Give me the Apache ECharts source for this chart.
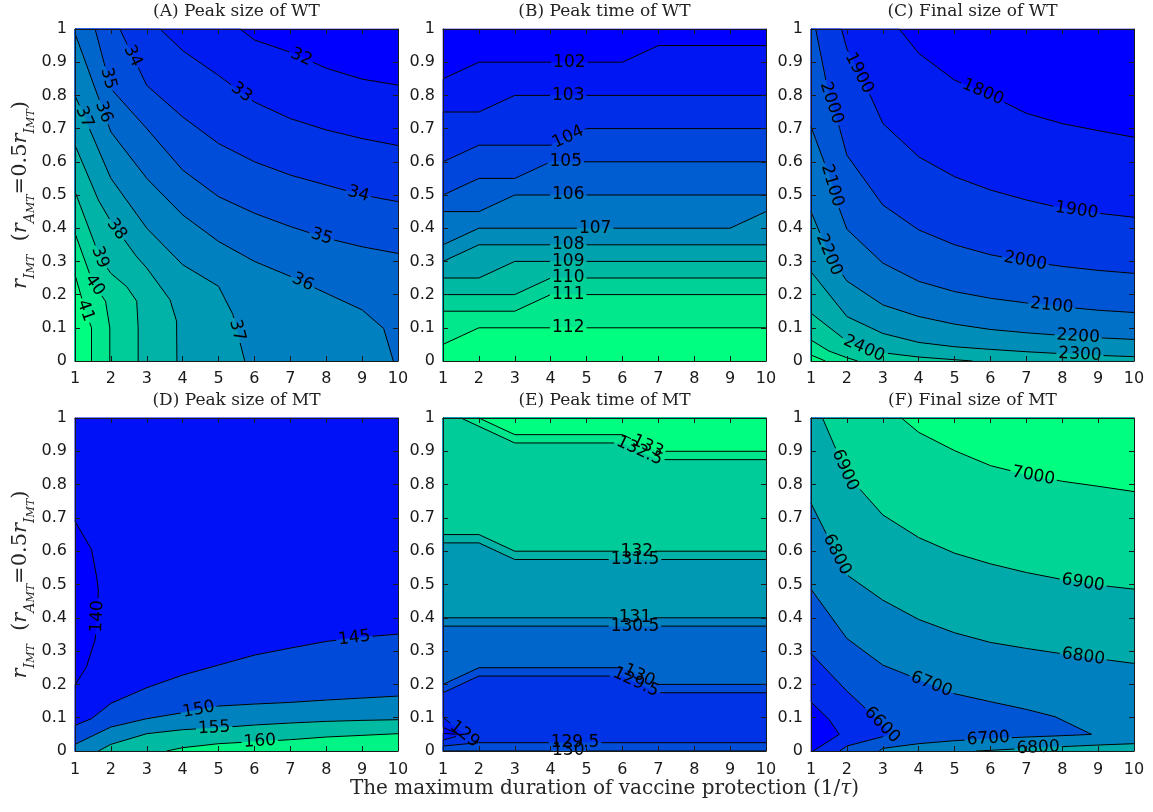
<!DOCTYPE html>
<html><head><meta charset="utf-8">
<script src="https://cdn.jsdelivr.net/npm/echarts@6/dist/echarts.min.js"></script>
<style>html,body{margin:0;padding:0;background:#fff}#c{width:1153px;height:812px}</style>
</head><body><div id="c"></div>
<script>
// ---------------- data ----------------
const X_TICKS = ['1','2','3','4','5','6','7','8','9','10'];
const Y_TICKS = ['0','0.1','0.2','0.3','0.4','0.5','0.6','0.7','0.8','0.9','1'];
const TITLES = ['(A) Peak size of WT','(B) Peak time of WT','(C) Final size of WT',
                '(D) Peak size of MT','(E) Peak time of MT','(F) Final size of MT'];

// contour lines: level, side of the higher values (R = right of the listed direction), vertices [x, y]
const levelsA = [32,33,34,35,36,37,38,39,40,41];
const crangeA = [31,41];
const contoursA = [
 {level:32, side:'R', pts:[[5.6,1],[6,0.967],[7,0.93],[8,0.882],[9,0.849],[10,0.831]]},
 {level:33, side:'R', pts:[[3.37,1],[4,0.935],[5,0.86],[6,0.78],[7,0.73],[8,0.696],[9,0.67],[10,0.649]]},
 {level:34, side:'R', pts:[[2.25,1],[3,0.83],[4,0.735],[5,0.655],[6,0.6],[7,0.56],[8,0.53],[9,0.5],[10,0.48]]},
 {level:35, side:'R', pts:[[1.56,1],[2,0.82],[3,0.7],[4,0.575],[5,0.495],[6,0.445],[7,0.405],[8,0.37],[9,0.344],[10,0.324]]},
 {level:36, side:'R', pts:[[1,0.987],[2,0.69],[3,0.55],[4,0.44],[5,0.36],[6,0.3],[7,0.255],[8,0.204],[9,0.154],[9.6,0.098],[9.87,0]]},
 {level:37, side:'R', pts:[[1,0.8],[2,0.55],[3,0.4],[4,0.29],[5,0.225],[5.4,0.14],[5.73,0]]},
 {level:38, side:'R', pts:[[1,0.65],[1.65,0.485],[2,0.42],[2.72,0.314],[3,0.28],[3.65,0.184],[3.83,0.12],[3.84,0]]},
 {level:39, side:'R', pts:[[1,0.51],[1.7,0.31],[2,0.264],[2.44,0.224],[2.72,0.18],[2.76,0.1],[2.76,0]]},
 {level:40, side:'R', pts:[[1,0.385],[1.5,0.235],[1.85,0.18],[1.97,0.1],[1.97,0]]},
 {level:41, side:'R', pts:[[1,0.26],[1.28,0.154],[1.46,0.1],[1.46,0]]}
];
const labelsA = [[32,7.27,0.907],[33,5.55,0.796],[34,2.58,0.917],[34,8.89,0.5],[35,1.93,0.851],[35,7.87,0.374],
 [36,1.7,0.746],[36,7.31,0.229],[37,1.19,0.731],[37,5.55,0.093],[38,2.02,0.385],[39,1.74,0.314],[40,1.56,0.229],[41,1.23,0.149]];

const levelsB = [102,103,104,105,106,107,108,109,110,111,112];
const crangeB = [101,112];
const contoursB = [
 {level:102, side:'R', pts:[[1,0.85],[2,0.9],[6,0.9],[7,0.95],[10,0.95]]},
 {level:103, side:'R', pts:[[1,0.75],[2,0.75],[3,0.8],[10,0.8]]},
 {level:104, side:'R', pts:[[1,0.6],[2,0.65],[4,0.65],[5,0.7],[10,0.7]]},
 {level:105, side:'R', pts:[[1,0.5],[2,0.55],[3,0.55],[4,0.6],[10,0.6]]},
 {level:106, side:'R', pts:[[1,0.45],[2,0.45],[3,0.5],[10,0.5]]},
 {level:107, side:'R', pts:[[1,0.35],[2,0.4],[9,0.4],[10,0.45]]},
 {level:108, side:'R', pts:[[1,0.3],[2,0.35],[10,0.35]]},
 {level:109, side:'R', pts:[[1,0.25],[2,0.25],[3,0.3],[10,0.3]]},
 {level:110, side:'R', pts:[[1,0.2],[3,0.2],[4,0.25],[10,0.25]]},
 {level:111, side:'R', pts:[[1,0.15],[3,0.15],[4,0.2],[10,0.2]]},
 {level:112, side:'R', pts:[[1,0.05],[2,0.1],[10,0.1]]}
];
const labelsB = [[102,4.52,0.9],[103,4.49,0.8],[104,4.49,0.674],[105,4.42,0.6],[106,4.49,0.5],[107,5.24,0.4],
 [108,4.49,0.35],[109,4.49,0.3],[110,4.49,0.25],[111,4.49,0.2],[112,4.49,0.1]];

const levelsC = [1800,1900,2000,2100,2200,2300,2400,2500,2600];
const crangeC = [1700,2600];
const contoursC = [
 {level:1800, side:'R', pts:[[3.46,1],[4,0.927],[5,0.846],[6,0.8],[7,0.746],[8,0.715],[9,0.694],[10,0.674]]},
 {level:1900, side:'R', pts:[[1.85,1],[2,0.94],[2.65,0.8],[3,0.716],[4,0.615],[5,0.555],[6,0.515],[7,0.485],[8,0.46],[9,0.445],[10,0.433]]},
 {level:2000, side:'R', pts:[[1.13,1],[1.5,0.8],[1.8,0.7],[2,0.62],[3,0.47],[4,0.395],[5,0.35],[6,0.32],[7,0.3],[8,0.285],[9,0.273],[10,0.264]]},
 {level:2100, side:'R', pts:[[1,0.706],[1.5,0.56],[1.75,0.47],[2,0.397],[3,0.295],[4,0.24],[5,0.209],[6,0.189],[7,0.175],[8,0.163],[9,0.153],[10,0.146]]},
 {level:2200, side:'R', pts:[[1,0.45],[1.5,0.32],[2,0.241],[3,0.169],[4,0.134],[5,0.111],[6,0.095],[7,0.085],[8,0.077],[9,0.07],[10,0.065]]},
 {level:2300, side:'R', pts:[[1,0.269],[2,0.134],[3,0.083],[4,0.056],[5,0.043],[6,0.035],[7,0.028],[8,0.022],[9,0.017],[10,0.013]]},
 {level:2400, side:'R', pts:[[1,0.144],[2,0.06],[2.5,0.036],[3,0.025],[4,0.012],[5,0.004],[5.5,0]]},
 {level:2500, side:'R', pts:[[1,0.063],[1.5,0.03],[2,0.01],[2.3,0]]},
 {level:2600, side:'R', pts:[[1,0.018],[1.4,0]]}
];
const labelsC = [[1800,5.7,0.786],[1900,2.22,0.861],[1900,8.39,0.445],[2000,1.53,0.776],[2000,6.96,0.294],
 [2100,1.48,0.525],[2100,7.7,0.159],[2200,1.48,0.319],[2200,8.44,0.068],[2300,8.49,0.013],[2400,2.46,0.033]];

const levelsD = [140,145,150,155,160];
const crangeD = [138.5,161];
const contoursD = [
 {level:140, side:'L', pts:[[1,0.69],[1.46,0.605],[1.6,0.525],[1.65,0.484],[1.62,0.4],[1.56,0.334],[1.32,0.253],[1,0.198]]},
 {level:145, side:'R', pts:[[1,0.077],[1.46,0.097],[2,0.143],[3,0.19],[4,0.228],[5,0.258],[6,0.288],[7,0.309],[8,0.329],[9,0.342],[10,0.351]]},
 {level:150, side:'R', pts:[[1,0.02],[2,0.072],[3,0.097],[4,0.115],[5,0.135],[6,0.141],[7,0.146],[8,0.153],[9,0.159],[10,0.165]]},
 {level:155, side:'R', pts:[[1.65,0],[2,0.02],[3,0.052],[4,0.064],[5,0.07],[6,0.078],[7,0.084],[8,0.089],[9,0.092],[10,0.094]]},
 {level:160, side:'R', pts:[[3.55,0],[4,0.01],[5,0.022],[6,0.028],[7,0.034],[8,0.042],[9,0.047],[10,0.052]]}
];
const labelsD = [[140,1.7,0.404],[145,8.79,0.334],[150,4.45,0.121],[155,4.88,0.067],[160,6.15,0.027]];

const levelsE = [128.5,129,129.5,130,130.5,131,131.5,132,132.5,133];
const crangeE = [128,133];
const contoursE = [
 {level:128.5, side:'L', pts:[[1,0.071],[1.45,0.05],[1,0.053]]},
 {level:129, side:'L', pts:[[1,0.101],[1.6,0.05],[1,0.033]]},
 {level:129.5, side:'R', pts:[[1,0.015],[1.5,0.02],[2,0.025],[10,0.025]]},
 {level:129.5, side:'L', pts:[[1,0.175],[2,0.225],[6,0.225],[7,0.175],[10,0.175]]},
 {level:130, side:'L', pts:[[1,0.2],[2,0.25],[6,0.25],[7,0.2],[10,0.2]]},
 {level:130, side:'R', pts:[[1,0],[10,0]]},
 {level:130.5, side:'L', pts:[[1,0.375],[10,0.375]]},
 {level:131, side:'L', pts:[[1,0.4],[10,0.4]]},
 {level:131.5, side:'L', pts:[[1,0.625],[2,0.625],[3,0.575],[10,0.575]]},
 {level:132, side:'L', pts:[[1,0.65],[2,0.65],[3,0.6],[10,0.6]]},
 {level:132.5, side:'L', pts:[[1.5,1],[3,0.925],[6,0.925],[7,0.875],[10,0.875]]},
 {level:133, side:'L', pts:[[2,1],[3,0.95],[6,0.95],[7,0.9],[10,0.9]]}
];
const labelsE = [[133,6.68,0.91],[132.5,6.45,0.895],[132,6.4,0.599],[131.5,6.35,0.572],[131,6.35,0.4],[130.5,6.35,0.371],
 [130,6.45,0.223],[129.5,6.35,0.2],[129,1.79,0.057],[129.5,4.68,0.027],[130,4.49,0]];

const levelsF = [6500,6600,6700,6800,6900,7000];
const crangeF = [6400,7000];
const contoursF = [
 {level:6500, side:'L', pts:[[1,0.147],[1.5,0.095],[1.79,0.05],[1.06,0]]},
 {level:6600, side:'L', pts:[[1,0.293],[2,0.18],[2.6,0.12],[3.05,0.07],[3.2,0.05],[3,0.043],[2,0.015],[1.8,0]]},
 {level:6700, side:'L', pts:[[1,0.486],[2,0.338],[3,0.258],[4,0.215],[5,0.172],[6,0.148],[7,0.125],[7.8,0.103],[8.82,0.05],
   [8,0.046],[7,0.042],[6,0.037],[5,0.031],[4,0.022],[3,0.008],[2.9,0]]},
 {level:6800, side:'L', pts:[[1,0.744],[2,0.529],[3,0.453],[4,0.395],[5,0.355],[6,0.326],[7,0.308],[8,0.292],[9,0.277],[10,0.263]]},
 {level:6800, side:'R', pts:[[5.6,0],[6,0.002],[7,0.008],[8,0.013],[9,0.018],[10,0.022]]},
 {level:6900, side:'L', pts:[[1.32,1],[2,0.83],[3,0.709],[4,0.641],[5,0.594],[6,0.562],[7,0.536],[8,0.515],[9,0.498],[10,0.486]]},
 {level:7000, side:'L', pts:[[3.52,1],[4,0.957],[5,0.902],[6,0.857],[7,0.83],[8,0.81],[9,0.795],[10,0.779]]}
];
const labelsF = [[7000,7.19,0.822],[6900,1.95,0.844],[6900,8.58,0.504],[6800,1.71,0.589],[6800,8.58,0.278],
 [6700,4.31,0.188],[6600,3.01,0.082],[6700,5.94,0.034],[6800,7.33,0.007]];

// ---------------- layout / style ----------------
const GL = [75, 443, 811], GT = [29, 418], GW = 323, GH = [332, 333];
const PANELS = [
 {levels:levelsA, crange:crangeA, contours:contoursA, labels:labelsA},
 {levels:levelsB, crange:crangeB, contours:contoursB, labels:labelsB},
 {levels:levelsC, crange:crangeC, contours:contoursC, labels:labelsC},
 {levels:levelsD, crange:crangeD, contours:contoursD, labels:labelsD},
 {levels:levelsE, crange:crangeE, contours:contoursE, labels:labelsE},
 {levels:levelsF, crange:crangeF, contours:contoursF, labels:labelsF}
];
const INK = '#1a1a1a';
const FONT_NUM = 'DejaVu Sans';
const FONT_SERIF = 'DejaVu Serif';
const LABEL_SIZE = 17;

const winter = t => { t = Math.max(0, Math.min(1, t)); return 'rgb(0,' + Math.round(255*t) + ',' + Math.round(255*(1-0.5*t)) + ')'; };
const CORNERS = [[1,1],[10,1],[10,0],[1,0]];
function perim(p){
  const x=p[0], y=p[1];
  const d=[Math.abs(y-1), Math.abs(x-10), Math.abs(y), Math.abs(x-1)];
  let e=0; for(let i=1;i<4;i++) if(d[i]<d[e]) e=i;
  if(e===0) return (x-1)/9;
  if(e===1) return 1+(1-y);
  if(e===2) return 2+(10-x)/9;
  return 3+y;
}
function closePoly(pts){
  const pS=perim(pts[0]), pE=perim(pts[pts.length-1]);
  const d=((pS-pE)%4+4)%4;
  const add=[];
  for(let j=0;j<4;j++){ const dc=((j-pE)%4+4)%4; if(dc>1e-9 && dc<d-1e-9) add.push([dc,CORNERS[j]]); }
  add.sort((a,b)=>a[0]-b[0]);
  return pts.concat(add.map(a=>a[1]));
}
const mctx = document.createElement('canvas').getContext('2d');
function textW(s){ mctx.font = LABEL_SIZE + 'px "' + FONT_NUM + '"'; return mctx.measureText(s).width; }

// label placement: snap to the nearest point of a contour with the same level
function placeLabels(P, api){
  return P.labels.map(lb=>{
    const L=lb[0], q=api.coord([lb[1],lb[2]]);
    let best=null;
    P.contours.forEach((c,ci)=>{ if(c.level!==L) return;
      const pp=c.pts.map(v=>api.coord(v));
      for(let k=0;k<pp.length-1;k++){
        const a=pp[k], b=pp[k+1], dx=b[0]-a[0], dy=b[1]-a[1], len2=dx*dx+dy*dy||1;
        let t=((q[0]-a[0])*dx+(q[1]-a[1])*dy)/len2; t=Math.max(0,Math.min(1,t));
        const px=a[0]+t*dx, py=a[1]+t*dy, dd=(px-q[0])**2+(py-q[1])**2;
        if(!best||dd<best.dd) best={dd,px,py,ang:Math.atan2(dy,dx),ci};
      }
    });
    const txt=String(L);
    return {L, txt, ci:best.ci, x:best.px, y:best.py, ang:best.ang, hw:textW(txt)/2+2, hh:LABEL_SIZE*0.42};
  });
}
function clipT(a,b,bx){
  const c=Math.cos(bx.ang), s=Math.sin(bx.ang);
  const ax=a[0]-bx.x, ay=a[1]-bx.y, dx=b[0]-a[0], dy=b[1]-a[1];
  const u0=ax*c+ay*s, du=dx*c+dy*s, v0=-ax*s+ay*c, dv=-dx*s+dy*c;
  let t0=0, t1=1;
  const lim=[[u0,du,bx.hw],[v0,dv,bx.hh]];
  for(const [p0,dp,W] of lim){
    if(Math.abs(dp)<1e-12){ if(Math.abs(p0)>W) return null; continue; }
    let ta=(-W-p0)/dp, tb=(W-p0)/dp; if(ta>tb){const z=ta;ta=tb;tb=z;}
    t0=Math.max(t0,ta); t1=Math.min(t1,tb);
    if(t0>=t1) return null;
  }
  return [t0,t1];
}
function splitCurve(pp, boxes){
  const out=[]; let cur=null;
  const lerp=(a,b,t)=>[a[0]+(b[0]-a[0])*t, a[1]+(b[1]-a[1])*t];
  for(let k=0;k<pp.length-1;k++){
    const a=pp[k], b=pp[k+1];
    const ints=[]; boxes.forEach(bx=>{ const r=clipT(a,b,bx); if(r) ints.push(r); });
    ints.sort((x,y)=>x[0]-y[0]);
    let t=0; const segs=[];
    ints.forEach(([s0,s1])=>{ if(s0>t) segs.push([t,s0]); t=Math.max(t,s1); });
    if(t<1) segs.push([t,1]);
    let endsAt1=false;
    segs.forEach(([s0,s1])=>{
      const p1=lerp(a,b,s1);
      if(cur && s0===0) cur.push(p1); else { cur=[lerp(a,b,s0),p1]; out.push(cur); }
      endsAt1 = (s1===1);
    });
    if(!endsAt1) cur=null;
  }
  return out;
}

const grid=[], xAxis=[], yAxis=[], series=[], title=[];
PANELS.forEach((P,p)=>{
  const col=p%3, row=Math.floor(p/3);
  grid.push({left:GL[col], top:GT[row], width:GW, height:GH[row]});
  title.push({text:TITLES[p], left:GL[col]+GW/2, top:GT[row]-27, textAlign:'center', padding:0,
    textStyle:{fontFamily:FONT_SERIF, fontSize:17, fontWeight:'normal', color:'#222', lineHeight:20}});
  const axLine={show:true, onZero:false, lineStyle:{color:INK, width:1}};
  const tick={show:true, inside:true, length:5, lineStyle:{color:INK, width:1}};
  xAxis.push({type:'value', gridIndex:p, min:1, max:10, interval:1, position:'bottom', z:5,
    axisLine:axLine, axisTick:tick, splitLine:{show:false},
    axisLabel:{show:true, color:INK, fontSize:16, fontFamily:FONT_NUM, margin:row?11:10, formatter:v=>X_TICKS[Math.round(v)-1]}});
  xAxis.push({type:'value', gridIndex:p, min:1, max:10, interval:1, position:'top', z:5,
    axisLine:axLine, axisTick:tick, splitLine:{show:false}, axisLabel:{show:false}});
  yAxis.push({type:'value', gridIndex:p, min:0, max:1, interval:0.1, position:'left', z:5,
    axisLine:axLine, axisTick:tick, splitLine:{show:false},
    axisLabel:{show:true, color:INK, fontSize:16, fontFamily:FONT_NUM, margin:8, formatter:v=>Y_TICKS[Math.round(v*10)]}});
  yAxis.push({type:'value', gridIndex:p, min:0, max:1, interval:0.1, position:'right', z:5,
    axisLine:axLine, axisTick:tick, splitLine:{show:false}, axisLabel:{show:false}});

  const [z0,z1]=P.crange;
  const colOf = L => winter((L-z0)/(z1-z0));
  const cs = P.contours.map((c,i)=>Object.assign({i},c)).sort((a,b)=>a.level-b.level || a.i-b.i);
  const fills=[{poly:CORNERS, color:colOf(z0)}].concat(cs.map(c=>({
    poly: closePoly(c.side==='L' ? c.pts.slice().reverse() : c.pts), color: colOf(c.level)})));
  series.push({type:'custom', coordinateSystem:'cartesian2d', xAxisIndex:2*p, yAxisIndex:2*p, z:1, silent:true, clip:false,
    data: fills.map(()=>[5,0.5]),
    renderItem:(params,api)=>{ const f=fills[params.dataIndex];
      return {type:'polygon', shape:{points:f.poly.map(q=>api.coord(q))}, style:{fill:f.color, stroke:f.color, lineWidth:0.6}}; }});
  series.push({type:'custom', coordinateSystem:'cartesian2d', xAxisIndex:2*p, yAxisIndex:2*p, z:2, silent:true, clip:false,
    data: P.contours.map(()=>[5,0.5]),
    renderItem:(params,api)=>{
      const ci=params.dataIndex, c=P.contours[ci];
      const boxes=placeLabels(P,api).filter(b=>b.ci===ci);
      const parts=splitCurve(c.pts.map(q=>api.coord(q)), boxes);
      return {type:'group', children: parts.map(pts=>({type:'polyline', shape:{points:pts}, style:{fill:null, stroke:'#000', lineWidth:1}}))};
    }});
  series.push({type:'custom', coordinateSystem:'cartesian2d', xAxisIndex:2*p, yAxisIndex:2*p, z:3, silent:true, clip:false,
    data: P.labels.map(l=>[l[1],l[2]]),
    renderItem:(params,api)=>{
      const b=placeLabels(P,api)[params.dataIndex];
      let rot=-b.ang;
      while(rot>Math.PI/2) rot-=Math.PI;
      while(rot<=-Math.PI/2) rot+=Math.PI;
      return {type:'text', x:b.x, y:b.y, rotation:rot,
        style:{text:b.txt, fill:'#000', fontSize:LABEL_SIZE, fontFamily:FONT_NUM, align:'center', verticalAlign:'middle'}};
    }});
});

const rs = {fontFamily:FONT_SERIF, color:'#262626'};
const yNameRich = {
  r: Object.assign({fontStyle:'italic', fontSize:21, lineHeight:32, verticalAlign:'middle'}, rs),
  s: Object.assign({fontStyle:'italic', fontSize:14, lineHeight:20, verticalAlign:'bottom'}, rs),
  ss: Object.assign({fontStyle:'italic', fontSize:11, lineHeight:11, verticalAlign:'bottom'}, rs),
  n: Object.assign({fontSize:21, lineHeight:32, verticalAlign:'middle'}, rs)
};
const yName = '{r|r}{s|I}{ss|MT}{n|  (}{r|r}{s|A}{ss|MT}{n|=0.5}{r|r}{s|I}{ss|MT}{n|)}';
[0,6].forEach(i=>{ Object.assign(yAxis[i], {name:yName, nameLocation:'middle', nameRotate:90, nameGap:38,
  nameTextStyle:{rich:yNameRich}}); });
Object.assign(xAxis[8], {name:'{n|The maximum duration of vaccine protection (1/}{i|τ}{n|)}', nameLocation:'middle', nameGap:26,
  nameTextStyle:{verticalAlign:'top', rich:{n:Object.assign({fontSize:20},rs), i:Object.assign({fontSize:20, fontStyle:'italic'},rs)}}});

const chart = echarts.init(document.getElementById('c'), null, {renderer:'canvas'});
chart.setOption({animation:false, backgroundColor:'#fff', title, grid, xAxis, yAxis, series});
</script></body></html>
